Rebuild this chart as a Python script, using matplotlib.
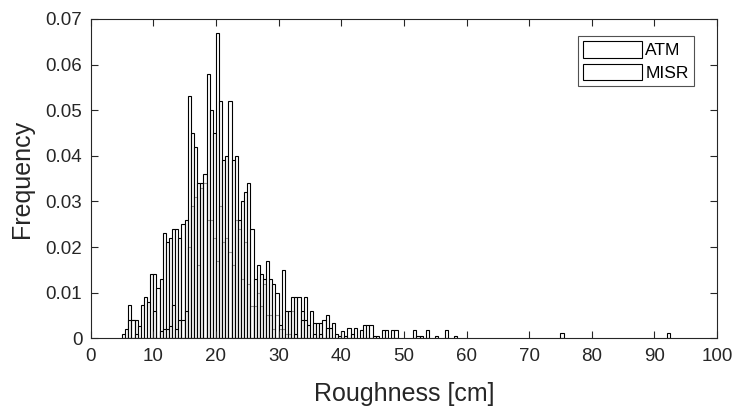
import numpy as np
import matplotlib
matplotlib.use("Agg")
import matplotlib.pyplot as plt

plt.rcParams['font.family'] = ['Liberation Sans', 'DejaVu Sans']

# histogram bins: 0.5 cm wide, first bin starts at 5 cm
bin_start = 5.0
bin_width = 0.5

# probability per bin (5 cm ... 59.5 cm)
atm = [
    0.0009, 0.0021, 0.0072, 0.004, 0.004, 0.0026, 0.0072, 0.009, 0.008, 0.014,
    0.014, 0.011, 0.013, 0.023, 0.021, 0.022, 0.024, 0.024, 0.022, 0.025,
    0.026, 0.020, 0.029, 0.031, 0.016, 0.033, 0.034, 0.026, 0.026, 0.022,
    0.017, 0.029, 0.021, 0.022, 0.019, 0.016, 0.026, 0.024, 0.013, 0.021,
    0.012, 0.007, 0.007, 0.010, 0.007, 0.012, 0.005, 0.005, 0.002, 0.005,
    0.002, 0.002, 0.001, 0.001, 0.006, 0.009, 0.009, 0.006, 0.009, 0.003,
    0.006, 0.0033, 0.0033, 0.0033, 0.004, 0.005, 0.0022, 0.0033, 0.001, 0.0004,
    0.0015, 0.0004, 0.0022, 0.001, 0.0022, 0, 0.0017, 0.003, 0.003, 0.003,
    0.0004, 0.0004, 0, 0.0017, 0.0017, 0, 0.0017, 0.0017, 0, 0,
    0, 0, 0, 0.0017, 0.0004, 0.0004, 0, 0.0017, 0, 0,
    0.0004, 0, 0, 0.0017, 0, 0, 0.0004, 0, 0, 0,
]

misr = [
    0, 0, 0.004, 0.004, 0.001, 0, 0, 0, 0, 0,
    0.006, 0, 0.0015, 0.002, 0.002, 0.0026, 0.0072, 0.002, 0.004, 0.004,
    0.006, 0.053, 0.045, 0.042, 0.034, 0.034, 0.036, 0.058, 0.050, 0.045,
    0.067, 0.052, 0.039, 0.040, 0.052, 0.039, 0.040, 0.026, 0.030, 0.032,
    0.034, 0.024, 0.013, 0.016, 0.014, 0.013, 0.017, 0.013, 0.012, 0.010,
    0.003, 0.015, 0.006, 0.006, 0.009, 0.001, 0, 0.004, 0.004, 0,
    0, 0.001, 0, 0.001, 0, 0.0022, 0, 0, 0, 0,
]

# isolated far-tail bins of MISR
misr_tail_x = [75.0, 92.0]
misr_tail_h = [0.0011, 0.0011]

xticks = np.arange(0, 101, 10)
yticks = np.arange(0, 0.071, 0.01)


def draw_hist(ax, heights, extra_x=(), extra_h=(), label=None):
    h = np.asarray(heights, dtype=float)
    left = bin_start + bin_width * np.arange(len(h))
    left = np.concatenate([left, np.asarray(extra_x, dtype=float)])
    h = np.concatenate([h, np.asarray(extra_h, dtype=float)])
    keep = h > 0
    ax.bar(left[keep], h[keep], width=bin_width, align='edge',
           facecolor=(1, 1, 1, 0.6), edgecolor='black', linewidth=0.8,
           label=label)


fig = plt.figure(figsize=(7.37, 4.12), dpi=100)
ax = fig.add_axes([0.123, 0.179, 0.850, 0.775])

draw_hist(ax, atm, label='ATM')
draw_hist(ax, misr, misr_tail_x, misr_tail_h, label='MISR')

ax.set_xlim(0, 100)
ax.set_ylim(0, 0.07)
ax.set_xticks(xticks)
ax.set_yticks(yticks)
ax.set_yticklabels([f'{v:g}' for v in np.round(yticks, 2)])

axcol = (0.15, 0.15, 0.15)
for s in ax.spines.values():
    s.set_color(axcol)
    s.set_linewidth(0.8)
ax.tick_params(axis='both', direction='in', length=5, width=0.8, colors=axcol,
               labelsize=13.5, top=True, right=True)
ax.tick_params(axis='x', pad=7)
ax.tick_params(axis='y', pad=6)

ax.set_xlabel('Roughness [cm]', fontsize=18, color=axcol, labelpad=12)
ax.set_ylabel('Frequency', fontsize=18, color=axcol, labelpad=8)

leg = ax.legend(loc='upper right', bbox_to_anchor=(0.963, 0.947),
                borderaxespad=0, fontsize=12.5, fancybox=False,
                handlelength=3.4, handleheight=1.1, labelspacing=0.3,
                handletextpad=0.2, borderpad=0.3)
leg.get_frame().set_edgecolor(axcol)
leg.get_frame().set_linewidth(0.8)

fig.savefig('out.png', dpi=100)
